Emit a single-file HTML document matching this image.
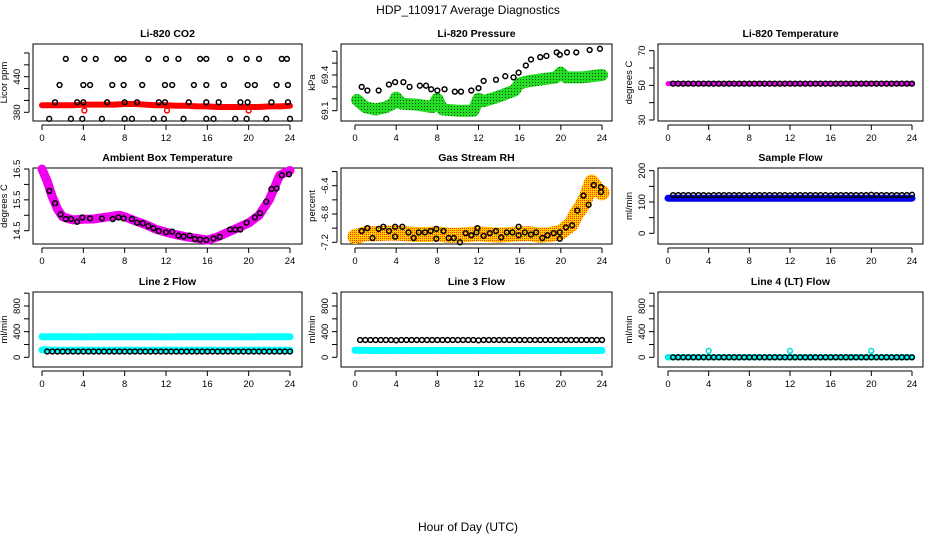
<!DOCTYPE html>
<html><head><meta charset="utf-8"><style>
html,body{margin:0;padding:0;background:#fff;}
svg{display:block;font-family:"Liberation Sans",sans-serif;}
</style></head><body>
<svg id="c" width="936" height="540" viewBox="0 0 936 540" xmlns="http://www.w3.org/2000/svg">
<defs>
<pattern id="gp" width="3" height="3" patternUnits="userSpaceOnUse"><rect width="3" height="3" fill="#22dd22"/><rect x="1" y="1" width="1" height="1" fill="#114411"/></pattern>
<pattern id="op" width="2" height="2" patternUnits="userSpaceOnUse"><rect width="2" height="2" fill="#ffcc00"/><rect width="1" height="1" fill="#ff3300"/></pattern>
</defs>
<text x="468" y="14" font-size="12" text-anchor="middle">HDP_110917  Average Diagnostics</text>
<text x="468" y="531" font-size="12" text-anchor="middle">Hour of Day (UTC)</text>
</svg>
<script>
// ---- data ----
const hours = [0,1,2,3,4,5,6,7,8,9,10,11,12,13,14,15,16,17,18,19,20,21,22,23,24];
const xTicks = [0,4,8,12,16,20,24];
const halfHours = [0.5,1,1.5,2,2.5,3,3.5,4,4.5,5,5.5,6,6.5,7,7.5,8,8.5,9,9.5,10,10.5,11,11.5,12,12.5,13,13.5,14,14.5,15,15.5,16,16.5,17,17.5,18,18.5,19,19.5,20,20.5,21,21.5,22,22.5,23,23.5,24];

const co2Red = [392,392,392,392,393,393,393,393,394,394,393,392,392,391,391,390,390,389,389,389,389,389,390,390,391];
const co2T = [2.3,4.1,5.2,7.3,7.9,10.3,12.0,13.2,15.3,15.9,18.2,19.8,21.0,23.2,23.7, 1.7,4.0,4.65,6.8,7.9,9.7,11.9,12.6,14.7,15.9,17.6,19.9,20.6,22.7,23.8, 1.26,3.4,4.0,6.3,8.0,9.2,11.3,11.9,14.2,15.9,17.1,19.2,19.9,22.2,23.8, 0.7,2.8,3.9,5.8,8.0,8.7,10.8,11.8,13.7,15.9,16.6,18.7,19.8,21.7,24.0];
const co2V = [470,470,470,470,470,470,470,470,470,470,470,470,470,470,470, 426,426,426,426,426,426,426,426,426,426,426,426,426,426,426, 397,397,397,397,397,397,397,397,397,397,397,397,397,397,397, 369,369,369,369,369,369,369,369,369,369,369,369,369,369,369];
const co2OutT = [4.1,12.1,20.0];
const co2OutV = [383,383,383];

const presGreenT = [0.2,1,2,3,3.7,4,4.5,6,7.5,8,8.5,10,11.5,12,12.5,14,15.5,16,17,19.5,20,20.5,22,24];
const presGreenV = [69.19,69.13,69.11,69.13,69.16,69.21,69.16,69.15,69.13,69.20,69.11,69.10,69.10,69.20,69.18,69.22,69.27,69.33,69.35,69.38,69.42,69.38,69.38,69.40];
const presT = [0.65,1.2,2.3,3.3,3.9,4.7,5.3,6.3,6.9,7.4,8.0,8.7,9.7,10.3,11.3,12.0,12.5,13.7,14.6,15.4,15.9,16.6,17.1,18.0,18.6,19.6,19.9,20.6,21.5,22.8,23.8];
const presV = [69.30,69.27,69.27,69.32,69.34,69.34,69.30,69.31,69.31,69.28,69.27,69.28,69.26,69.26,69.27,69.29,69.35,69.36,69.39,69.38,69.42,69.48,69.53,69.55,69.56,69.59,69.57,69.59,69.59,69.61,69.62];

const tempBand = [51,51,51,51,51,51,51,51,51,51,51,51,51,51,51,51,51,51,51,51,51,51,51,51,51];
const tempBlack = [51,51,51,51,51,51,51,51,51,51,51,51,51,51,51,51,51,51,51,51,51,51,51,51,51,51,51,51,51,51,51,51,51,51,51,51,51,51,51,51,51,51,51,51,51,51,51,51];

const ambBandT = [0,0.5,1,1.5,2,3,4,5,6,7,7.5,8,9,10,11,12,13,14,15,16,17,18,19,20,21,22,22.5,23,24];
const ambBandV = [16.5,16.1,15.6,15.2,14.95,14.85,14.87,14.88,14.93,14.98,15.0,14.95,14.82,14.7,14.55,14.45,14.37,14.3,14.25,14.2,14.3,14.45,14.6,14.75,15.0,15.5,15.9,16.3,16.45];
const ambT = [0.71,1.26,1.8,2.3,2.8,3.4,3.9,4.65,5.8,6.85,7.4,7.9,8.7,9.2,9.75,10.3,10.8,11.3,12.0,12.6,13.2,13.7,14.3,14.8,15.3,15.9,16.6,17.2,18.2,18.7,19.2,19.8,20.6,21.1,21.7,22.2,22.7,23.2,23.9];
const ambV = [15.79,15.39,15.03,14.88,14.88,14.79,14.93,14.9,14.9,14.88,14.93,14.9,14.88,14.76,14.74,14.65,14.58,14.49,14.45,14.47,14.34,14.31,14.34,14.23,14.22,14.2,14.25,14.3,14.54,14.54,14.54,14.76,14.93,15.07,15.44,15.85,15.87,16.3,16.33];

const rhBandT = [0,1,2,3,4,5,6,7,8,9,10,11,12,13,14,15,16,17,18,19,20,20.5,21,21.5,22,22.5,23,23.5,24];
const rhBandV = [-7.12,-7.08,-7.08,-7.07,-7.07,-7.08,-7.09,-7.09,-7.08,-7.1,-7.1,-7.09,-7.08,-7.09,-7.1,-7.09,-7.08,-7.08,-7.1,-7.09,-7.06,-7.0,-6.95,-6.8,-6.7,-6.55,-6.35,-6.45,-6.5];
const rhT = [0.65,1.2,1.7,2.3,2.75,3.3,3.9,3.9,4.6,5.2,5.7,6.2,6.8,7.35,7.9,7.9,8.6,9.1,9.6,10.2,10.75,11.3,11.8,11.9,12.5,13.1,13.7,14.2,14.75,15.3,15.9,15.9,16.5,17.1,17.6,18.2,18.7,19.3,19.9,19.9,20.5,21.1,21.6,22.2,22.7,23.2,23.9,23.9];
const rhV = [-7.04,-7.0,-7.14,-7.01,-6.98,-7.04,-6.98,-7.12,-6.98,-7.06,-7.14,-7.06,-7.06,-7.04,-7.01,-7.15,-7.04,-7.14,-7.14,-7.2,-7.07,-7.1,-7.06,-7.0,-7.11,-7.07,-7.04,-7.13,-7.06,-7.06,-6.98,-7.1,-7.06,-7.09,-7.06,-7.14,-7.1,-7.07,-7.06,-7.15,-6.99,-6.96,-6.75,-6.54,-6.67,-6.39,-6.42,-6.49];

const sampleBand = [112,112,112,112,112,112,112,112,112,112,112,112,112,112,112,112,112,112,112,112,112,112,112,112,112];
const sampleBlack = [122,122,122,122,122,122,122,121,122,122,122,122,122,122,122,121,122,122,122,122,122,122,122,121,122,122,122,122,122,122,122,121,122,122,122,122,122,122,122,123,122,122,122,122,122,122,122,123];

const l2CyanHi = [322,322,322,322,318,322,322,322,322,322,322,322,318,322,322,322,322,322,322,322,318,322,322,322,322];
const l2CyanLo = [115,112,110,110,112,110,110,110,112,110,110,110,112,110,110,110,112,110,110,110,112,110,110,110,110];
const l2Black = [90,90,90,90,90,90,90,90,90,90,90,90,90,90,90,90,90,90,90,90,90,90,90,90,90,90,90,90,90,90,90,90,90,90,90,90,90,90,90,90,90,90,90,90,90,90,90,90];

const l3Cyan = [110,108,106,106,108,106,106,106,108,106,106,106,108,106,106,106,108,106,106,106,108,106,106,106,106];
const l3Black = [270,270,270,270,270,270,270,265,270,270,270,270,270,270,270,270,270,270,270,270,270,270,270,265,270,270,270,270,270,270,270,270,270,270,270,270,270,270,270,270,270,270,270,270,270,270,270,270];

const l4CyanBand = [0,0,0,0,0,0,0,0,0,0,0,0,0,0,0,0,0,0,0,0,0,0,0,0,0];
const l4CyanT = [0,4.0,12.0,20.0];
const l4CyanV = [0,100,100,100];
const l4Black = [0,0,0,0,0,0,0,0,0,0,0,0,0,0,0,0,0,0,0,0,0,0,0,0,0,0,0,0,0,0,0,0,0,0,0,0,0,0,0,0,0,0,0,0,0,0,0,0];

// ---- drawing ----
const svg = document.getElementById('c');
const NS = 'http://www.w3.org/2000/svg';
function mk(tag, attrs, parent) {
  const e = document.createElementNS(NS, tag);
  for (const k in attrs) e.setAttribute(k, attrs[k]);
  (parent || svg).appendChild(e);
  return e;
}
const cols = [{l:33,r:302,x0:42,x24:290},{l:341,r:612,x0:355,x24:602},{l:658,r:923,x0:668,x24:912}];
const rows = [{t:44,b:121},{t:168,b:244},{t:292,b:367}];

function panel(name, ci, ri, title, ylab, v1, p1, v2, p2, ticks, labels) {
  const c = cols[ci], r = rows[ri];
  const g = mk('g', {});
  
  
  const xs = t => c.x0 + (c.x24 - c.x0) * t / 24;
  const ys = v => p1 + (p2 - p1) * (v - v1) / (v2 - v1);
  const tt = mk('text', {x:(c.l + c.r) / 2, y:r.t - 7, 'font-size':10.5, 'font-weight':'bold', 'text-anchor':'middle'}, g);
  tt.textContent = title;
  
  
  const box = mk('rect', {x:c.l, y:r.t, width:c.r - c.l, height:r.b - r.t, fill:'none', stroke:'#000', 'stroke-width':1}, g);
  
  
  const xa = mk('g', {}, g);
  
  
  mk('line', {x1:xs(0), x2:xs(24), y1:r.b + 4, y2:r.b + 4, stroke:'#000'}, xa);
  xTicks.forEach(t => {
    mk('line', {x1:xs(t), x2:xs(t), y1:r.b + 4, y2:r.b + 9, stroke:'#000'}, xa);
    const lb = mk('text', {x:xs(t), y:r.b + 20, 'font-size':9.5, 'text-anchor':'middle'}, xa);
    lb.textContent = t;
  });
  const ya = mk('g', {}, g);
  
  
  mk('line', {x1:c.l - 4, x2:c.l - 4, y1:ys(ticks[0]), y2:ys(ticks[ticks.length - 1]), stroke:'#000'}, ya);
  ticks.forEach(v => mk('line', {x1:c.l - 9, x2:c.l - 4, y1:ys(v), y2:ys(v), stroke:'#000'}, ya));
  labels.forEach(v => {
    const y = ys(v), x = c.l - 13;
    const lb = mk('text', {x:x, y:y, 'font-size':9.5, 'text-anchor':'middle', transform:'rotate(-90 ' + x + ' ' + y + ')'}, ya);
    lb.textContent = v;
  });
  const yx = c.l - 26, yy = (r.t + r.b) / 2;
  const yt = mk('text', {x:yx, y:yy, 'font-size':9.5, 'text-anchor':'middle', transform:'rotate(-90 ' + yx + ' ' + yy + ')'}, g);
  yt.textContent = ylab;
  
  
  return {g, xs, ys};
}
function band(P, ts, vs, color, w, nm) {
  const pts = ts.map((t, i) => P.xs(t).toFixed(1) + ',' + P.ys(vs[i]).toFixed(1)).join(' ');
  const e = mk('polyline', {points:pts, fill:'none', stroke:color, 'stroke-width':w, 'stroke-linecap':'round', 'stroke-linejoin':'round'}, P.g);
  
  
}
function circles(P, ts, vs, color, nm) {
  const g = mk('g', {}, P.g);
  
  
  ts.forEach((t, i) => {
    const e = mk('circle', {cx:P.xs(t), cy:P.ys(vs[i]), r:2.4, fill:'none', stroke:color, 'stroke-width':1.5}, g);
    
    
  });
}

let P;
P = panel('co2', 0, 0, 'Li-820 CO2', 'Licor ppm', 380, 112.3, 440, 76.7, [380,400,420,440,460,480], [380,440]);
band(P, hours, co2Red, '#ff0000', 6, 'co2-raw-band');
circles(P, co2OutT, co2OutV, '#ff0000', 'co2-outliers');
circles(P, co2T, co2V, '#000', 'co2-averages');

P = panel('pressure', 1, 0, 'Li-820 Pressure', 'kPa', 69.1, 110.7, 69.4, 75, [69.1,69.2,69.3,69.4,69.5,69.6], [69.1,69.4]);
band(P, presGreenT, presGreenV, 'url(#gp)', 12, 'pressure-raw-band');
circles(P, presT, presV, '#000', 'pressure-averages');

P = panel('li820-temp', 2, 0, 'Li-820 Temperature', 'degrees C', 30, 120, 70, 50.7, [30,40,50,60,70], [30,50,70]);
band(P, hours, tempBand, '#ee00ee', 5, 'li820-temp-raw-band');
circles(P, halfHours, tempBlack, '#000', 'li820-temp-averages');

P = panel('ambient', 0, 1, 'Ambient Box Temperature', 'degrees C', 14.5, 230.7, 16.5, 169, [14.5,15,15.5,16,16.5], [14.5,15.5,16.5]);
band(P, ambBandT, ambBandV, '#ee00ee', 9, 'ambient-raw-band');
circles(P, ambT, ambV, '#000', 'ambient-averages');

P = panel('rh', 1, 1, 'Gas Stream RH', 'percent', -7.2, 242.3, -6.4, 185.7, [-7.2,-7.0,-6.8,-6.6,-6.4,-6.2], [-7.2,-6.8,-6.4]);
band(P, rhBandT, rhBandV, 'url(#op)', 15, 'rh-raw-band');
circles(P, rhT, rhV, '#000', 'rh-averages');

P = panel('sample-flow', 2, 1, 'Sample Flow', 'ml/min', 0, 233.3, 200, 170.7, [0,50,100,150,200], [0,100,200]);
band(P, hours, sampleBand, '#0000ee', 7, 'sample-flow-raw-band');
circles(P, halfHours, sampleBlack, '#000', 'sample-flow-averages');

P = panel('line2-flow', 0, 2, 'Line 2 Flow', 'ml/min', 0, 357.3, 800, 306, [0,200,400,600,800,1000], [0,400,800]);
band(P, hours, l2CyanHi, '#00ffff', 7, 'line2-raw-band-high');
band(P, hours, l2CyanLo, '#00ffff', 7, 'line2-raw-band-low');
circles(P, halfHours, l2Black, '#000', 'line2-averages');

P = panel('line3-flow', 1, 2, 'Line 3 Flow', 'ml/min', 0, 357.3, 800, 306, [0,200,400,600,800,1000], [0,400,800]);
band(P, hours, l3Cyan, '#00ffff', 7, 'line3-raw-band');
circles(P, halfHours, l3Black, '#000', 'line3-averages');

P = panel('line4-flow', 2, 2, 'Line 4 (LT) Flow', 'ml/min', 0, 357.3, 800, 306, [0,200,400,600,800,1000], [0,400,800]);
band(P, hours, l4CyanBand, '#00ffff', 6, 'line4-raw-band');
circles(P, l4CyanT, l4CyanV, '#00dddd', 'line4-raw-points');
circles(P, halfHours, l4Black, '#000', 'line4-averages');
</script>
</body></html>
